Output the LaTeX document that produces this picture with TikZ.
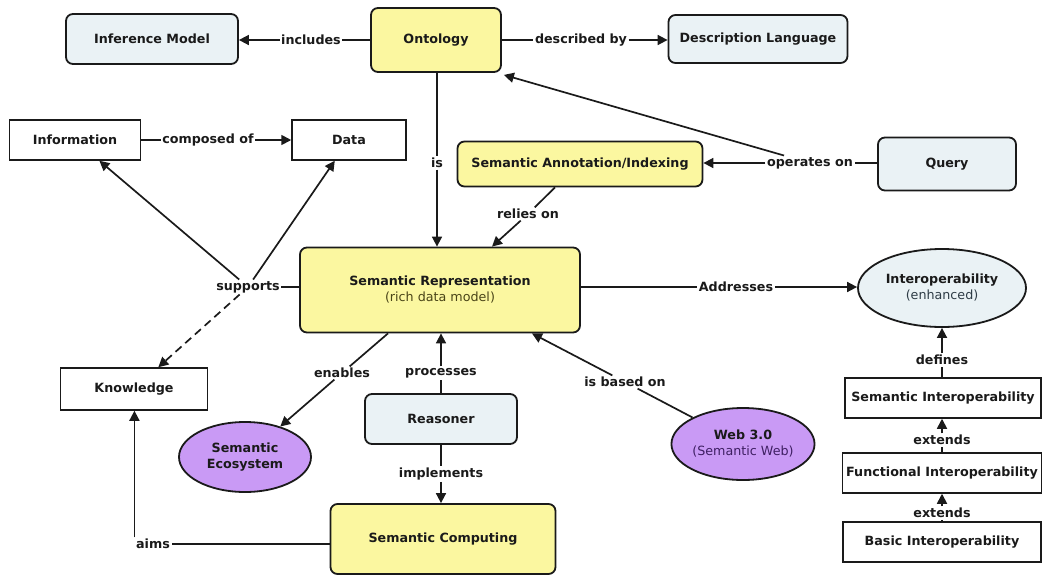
\documentclass[tikz,border=0pt]{standalone}
\usepackage{fontspec}
\setmainfont{DejaVu Sans}
\usetikzlibrary{arrows.meta,shapes.geometric}
\definecolor{yelfill}{HTML}{FBF7A0}
\definecolor{blufill}{HTML}{EAF2F5}
\definecolor{purfill}{HTML}{C99AF5}
\definecolor{edge}{HTML}{1A1A1A}
\definecolor{subyel}{HTML}{4A4518}
\definecolor{subblu}{HTML}{2E3C46}
\definecolor{subpur}{HTML}{3E1F62}
\tikzset{
  base/.style={font=\fontsize{12.7}{16}\selectfont\bfseries, text=edge},
  yelbox/.style={base, draw=edge, fill=yelfill, rounded corners=7, line width=1.8, inner sep=0, align=center},
  blubox/.style={base, draw=edge, fill=blufill, rounded corners=7, line width=1.8, inner sep=0, align=center},
  whtbox/.style={base, draw=edge, fill=white, line width=1.5, inner sep=0, align=center},
  purell/.style={base, draw=edge, fill=purfill, ellipse, line width=1.8, inner sep=0, align=center},
  bluell/.style={base, draw=edge, fill=blufill, ellipse, line width=1.8, inner sep=0, align=center},
  lbl/.style={base, inner sep=1.5pt},
  conn/.style={draw=edge, line width=1.7},
  arr/.style={conn, -{Triangle[length=10,width=10]}},
  darr/.style={arr, dash pattern=on 8pt off 5pt},
}
\begin{document}
\begin{tikzpicture}[x=1pt,y=-1pt]
\useasboundingbox (0,0) rectangle (1042,576);
% nodes
\node[blubox, minimum width=172, minimum height=50] (inf) at (152,39) {Inference Model};
\node[yelbox, minimum width=130, minimum height=64] (ont) at (436,40) {Ontology};
\node[blubox, minimum width=179, minimum height=48] (desc) at (758,39) {Description Language};
\node[whtbox, minimum width=131, minimum height=40] (info) at (75,140) {Information};
\node[whtbox, minimum width=114, minimum height=40] (data) at (349,140) {Data};
\node[yelbox, minimum width=245, minimum height=45] (sai) at (580,164) {Semantic Annotation/Indexing};
\node[blubox, minimum width=138, minimum height=53] (query) at (947,164) {Query};
\node[yelbox, minimum width=280, minimum height=85] (semrep) at (440,290) {Semantic Representation\\{\mdseries\color{subyel}(rich data model)}};
\node[bluell, minimum width=168, minimum height=78] (iop) at (942,288) {Interoperability\\{\mdseries\color{subblu}(enhanced)}};
\node[whtbox, minimum width=147, minimum height=42] (know) at (134,389) {Knowledge};
\node[purell, minimum width=132, minimum height=70] (eco) at (245,457) {Semantic\\Ecosystem};
\node[blubox, minimum width=152, minimum height=50] (reas) at (441,419) {Reasoner};
\node[purell, minimum width=136, minimum height=72] (web) at (743,444) {Web 3.0\\{\mdseries\color{subpur}(Semantic Web)}};
\node[yelbox, minimum width=225, minimum height=70] (sc) at (443,539) {Semantic Computing};
\node[whtbox, minimum width=196, minimum height=40] (sio) at (943,398) {Semantic Interoperability};
\node[whtbox, minimum width=199, minimum height=40] (fio) at (942,473) {Functional Interoperability};
\node[whtbox, minimum width=198, minimum height=40] (bio) at (942,542) {Basic Interoperability};
% labels
\node[lbl] (incl) at (311,40) {includes};
\node[lbl] (descl) at (581,40) {described by};
\node[lbl] (opl) at (810,163) {operates on};
\node[lbl] (isl) at (437,163) {is};
\node[lbl] (rell) at (528,214) {relies on};
\node[lbl] (compl) at (208,140) {composed of};
\node[lbl] (supl) at (248,287) {supports};
\node[lbl] (addl) at (736,287) {Addresses};
\node[lbl] (enl) at (342,373) {enables};
\node[lbl] (prl) at (441,373) {processes};
\node[lbl] (ibl) at (625,382) {is based on};
\node[lbl] (iml) at (441,474) {implements};
\node[lbl] (aiml) at (153,544) {aims};
\node[lbl] (defl) at (942,360) {defines};
\node[lbl] (ex1l) at (942,440) {extends};
\node[lbl] (ex2l) at (942,513) {extends};
% connectors
\draw[conn] (ont.west |- incl) -- (incl);
\draw[arr] (incl) -- (inf.east |- incl);
\draw[conn] (ont.east |- descl) -- (descl);
\draw[arr] (descl) -- (desc.west |- descl);
\draw[conn] (query.west |- opl) -- (opl);
\draw[arr] (opl) -- (sai.east |- opl);
\draw[arr] (opl) -- ([shift={(2,2)}]ont.south east);
\draw[conn] (ont.south -| isl) -- (isl);
\draw[arr] (isl) -- (isl |- semrep.north);
\draw[conn] ([xshift=-25]sai.south) -- (rell);
\draw[arr] (rell) -- ([xshift=52]semrep.north);
\draw[conn] (info.east |- compl) -- (compl);
\draw[arr] (compl) -- (data.west |- compl);
\draw[conn] (semrep.west |- supl) -- (supl);
\draw[arr] (supl) -- (info);
\draw[arr] (supl) -- (data);
\draw[darr] (supl) -- (know);
\draw[conn] (semrep.east |- addl) -- (addl);
\draw[arr] (addl) -- (iop.west |- addl);
\draw[conn] ([xshift=-52]semrep.south) -- (enl);
\draw[arr] (enl) -- (eco);
\draw[conn] (reas.north -| prl) -- (prl);
\draw[arr] (prl) -- (prl |- semrep.south);
\draw[conn] (web) -- (ibl);
\draw[arr] (ibl) -- ([xshift=92]semrep.south);
\draw[conn] (reas.south -| iml) -- (iml);
\draw[arr] (iml) -- (iml |- sc.north);
\draw[conn] (sc.west |- aiml) -- (aiml);
\draw[arr] (aiml.north west) -- (aiml.north west |- know.south);
\draw[conn] (sio.north -| defl) -- (defl);
\draw[arr] (defl) -- (defl |- iop.south);
\draw[conn] (fio.north -| ex1l) -- (ex1l);
\draw[arr] (ex1l) -- (ex1l |- sio.south);
\draw[conn] (bio.north -| ex2l) -- (ex2l);
\draw[arr] (ex2l) -- (ex2l |- fio.south);
\end{tikzpicture}
\end{document}
